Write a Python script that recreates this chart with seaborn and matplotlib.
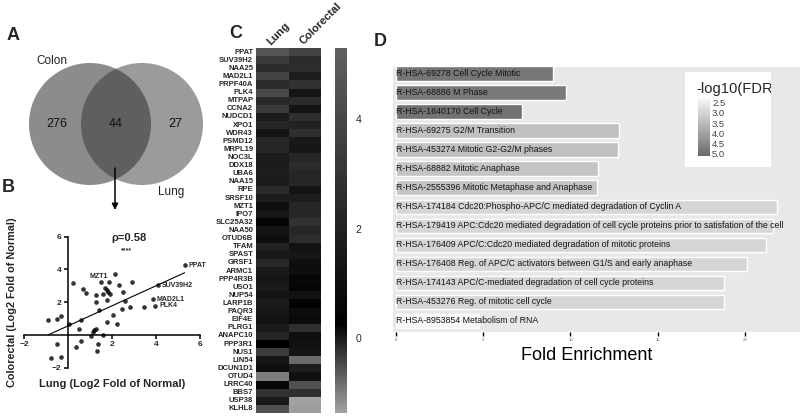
import numpy as np
import pandas as pd
import matplotlib
matplotlib.use('Agg')
import matplotlib.pyplot as plt
import seaborn as sns
from matplotlib.colors import LinearSegmentedColormap, Normalize
from matplotlib.patches import Circle
from matplotlib.cm import ScalarMappable

# ---- data ----
# A: venn
venn_sets = ['Colon', 'Lung']
venn_counts = [276, 44, 27]   # colon only, shared, lung only

# B: log2 fold of normal, lung (x) vs colorectal (y)
scatter_x = [5.30, 4.10, 3.87, 3.97, 3.45, 2.82, 2.92, 2.34, 2.14, 1.50, 1.86, 1.66,
             1.75, 1.81, 1.90, 1.57, 1.28, 1.29, 1.78, 2.49, 2.57, 2.46, 1.42, 2.04,
             1.78, 2.23, 0.83, 0.70, 0.23, 0.61, 0.52, 0.04, -0.34, -0.52, -0.90, 1.20,
             1.27, 1.04, 1.57, 1.36, 0.57, 0.37, -0.49, -0.33, -0.77, 1.30, 1.15]
scatter_y = [4.27, 3.03, 2.17, 1.77, 1.70, 1.70, 3.21, 3.07, 3.74, 3.21, 3.21, 2.86,
             2.76, 2.62, 2.52, 2.50, 2.42, 2.01, 2.15, 2.62, 2.05, 1.58, 1.54, 1.20,
             0.77, 0.67, 2.56, 2.80, 3.15, 0.93, 0.38, 0.69, 1.18, 0.97, 0.93, 0.28,
             0.36, -0.08, 0.00, -0.55, -0.35, -0.71, -0.53, -1.32, -1.38, -0.95, 0.20]
point_labels = {'PPAT': 0, 'SUV39H2': 1, 'MAD2L1': 2, 'PLK4': 3, 'MZT1': 9}
rho_text = 'ρ=0.58'

# C: heatmap
genes = ['PPAT', 'SUV39H2', 'NAA25', 'MAD2L1', 'PRPF40A', 'PLK4', 'MTPAP', 'CCNA2',
         'NUDCD1', 'XPO1', 'WDR43', 'PSMD12', 'MRPL19', 'NOC3L', 'DDX18', 'UBA6',
         'NAA15', 'RPE', 'SRSF10', 'MZT1', 'IPO7', 'SLC25A32', 'NAA50', 'OTUD6B',
         'TFAM', 'SPAST', 'GRSF1', 'ARMC1', 'PPP4R3B', 'USO1', 'NUP54', 'LARP1B',
         'PAQR3', 'EIF4E', 'PLRG1', 'ANAPC10', 'PPP3R1', 'NUS1', 'LIN54', 'DCUN1D1',
         'OTUD4', 'LRRC40', 'BBS7', 'USP38', 'KLHL8']
lung_vals = [4.7, 3.3, 2.5, 3.8, 2.5, 4.1, 2.35, 3.3, 1.7, 2.25, 1.25, 2.25, 2.25, 1.7,
             1.7, 1.8, 1.7, 2.5, 1.7, 1.0, 1.4, 0.55, 1.3, 1.0, 2.0, 1.6, 2.35, 1.6,
             1.4, 1.7, 1.3, 1.7, 1.4, 1.3, 1.7, 2.25, 0.25, -0.35, 1.3, 1.0, -0.98,
             0.65, 2.9, 1.6, -0.56]
colo_vals = [3.8, 2.5, 2.6, 1.8, 2.9, 1.35, 2.5, 1.3, 2.7, 2.0, 2.7, 1.6, 1.4, 2.25,
             2.5, 2.25, 2.25, 1.3, 1.8, 2.25, 2.25, 2.9, 2.25, 2.6, 1.2, 1.4, 1.0, 1.0,
             0.65, 0.5, 1.2, 0.4, 0.9, 0.8, 2.7, 1.0, 1.1, 1.3, -0.82, 1.8, 1.1, -0.56,
             2.7, -1.37, -1.3]
heat_cols = ['Lung', 'Colorectal']

# D: reactome enrichment
pathways = ['R-HSA-69278 Cell Cycle Mitotic',
            'R-HSA-68886 M Phase',
            'R-HSA-1640170 Cell Cycle',
            'R-HSA-69275 G2/M Transition',
            'R-HSA-453274 Mitotic G2-G2/M phases',
            'R-HSA-68882 Mitotic Anaphase',
            'R-HSA-2555396 Mitotic Metaphase and Anaphase',
            'R-HSA-174184 Cdc20:Phospho-APC/C mediated degradation of Cyclin A',
            'R-HSA-179419 APC:Cdc20 mediated degradation of cell cycle proteins prior to satisfation of the cell',
            'R-HSA-176409 APC/C:Cdc20 mediated degradation of mitotic proteins',
            'R-HSA-176408 Reg. of APC/C activators between G1/S and early anaphase',
            'R-HSA-174143 APC/C-mediated degradation of cell cycle proteins',
            'R-HSA-453276 Reg. of mitotic cell cycle',
            'R-HSA-8953854 Metabolism of RNA']
fold_enrich = [9.0, 9.76, 7.22, 12.8, 12.7, 11.58, 11.54, 21.85, 21.6, 21.2, 20.1, 18.8, 18.8, 4.78]
neglog_fdr = [4.85, 4.79, 4.93, 3.39, 3.39, 3.32, 3.32, 2.96, 2.96, 2.96, 2.96, 2.96, 2.96, 2.31]
fdr_ticks = [2.5, 3.0, 3.5, 4.0, 4.5, 5.0]

# ---- style ----
sns.set_theme(style='white')
plt.rcParams['font.family'] = ['Liberation Sans', 'DejaVu Sans']

W, H = 800, 418


def rect(x0, y0, x1, y1):
    # pixel box (top-left origin) -> figure fraction
    return [x0 / W, 1 - y1 / H, (x1 - x0) / W, (y1 - y0) / H]


fig = plt.figure(figsize=(W / 100, H / 100), dpi=100)
fig.patch.set_facecolor('white')

for letter, (px, py) in zip('ABCD', [(13, 35), (8, 187), (236, 33), (380, 42)]):
    fig.text(px / W, 1 - py / H, letter, fontsize=13, fontweight='bold', ha='center', va='center')

# ---- A: venn ----
ax_a = fig.add_axes(rect(0, 0, 210, 215))
ax_a.set_xlim(0, 210)
ax_a.set_ylim(215, 0)
ax_a.axis('off')
c_left = Circle((90, 124), 61, fc='#8c8c8c', ec='none')
c_right = Circle((142, 124), 61, fc='#9b9b9b', ec='none')
ax_a.add_patch(c_left)
ax_a.add_patch(c_right)
c_mid = Circle((90, 124), 61, fc='#5f5f5f', ec='none')
ax_a.add_patch(c_mid)
c_mid.set_clip_path(c_right)
for txt, pos in zip(venn_counts, [(57, 124), (116, 124), (175, 124)]):
    ax_a.text(pos[0], pos[1], str(txt), fontsize=9, ha='center', va='center', color='#111111')
ax_a.text(52, 61, venn_sets[0], fontsize=8.5, ha='center', va='center', color='#222222')
ax_a.text(171, 192, venn_sets[1], fontsize=8.5, ha='center', va='center', color='#222222')
ax_a.annotate('', xy=(115, 210), xytext=(115, 168),
              arrowprops=dict(arrowstyle='-|>', lw=1.1, color='black', mutation_scale=9,
                              shrinkA=0, shrinkB=0))

# ---- B: scatter ----
ax_b = fig.add_axes(rect(24, 236.7, 200, 367.7))
sns.regplot(x=np.array(scatter_x), y=np.array(scatter_y), ci=None, ax=ax_b,
            scatter_kws=dict(s=11, color='black', linewidths=0),
            line_kws=dict(color='black', lw=0.8))
ax_b.set_xlim(-2, 6)
ax_b.set_ylim(-2, 6)
ax_b.set_facecolor('none')
for side in ['top', 'right']:
    ax_b.spines[side].set_visible(False)
for side in ['left', 'bottom']:
    ax_b.spines[side].set_position(('data', 0))
    ax_b.spines[side].set_color('black')
    ax_b.spines[side].set_linewidth(1.1)
ax_b.set_xticks([-2, 2, 4, 6])
ax_b.set_yticks([-2, 2, 4, 6])
ax_b.tick_params(direction='out', length=3, width=1.1, color='black', labelsize=6, pad=1.5,
                 bottom=True, left=True)
for lab in ax_b.get_xticklabels() + ax_b.get_yticklabels():
    lab.set_fontweight('bold')
ax_b.set_xlabel('Lung (Log2 Fold of Normal)', fontsize=8, fontweight='bold')
ax_b.set_ylabel('Colorectal (Log2 Fold of Normal)', fontsize=7.8, fontweight='bold')
ax_b.xaxis.set_label_coords(0.5, -0.085)
ax_b.yaxis.set_label_coords(-0.04, 0.5)
for name, i in point_labels.items():
    if name == 'MZT1':
        ax_b.text(scatter_x[i] - 0.1, scatter_y[i] + 0.33, name, fontsize=5, fontweight='bold',
                  ha='center', va='center', clip_on=False)
    else:
        ax_b.text(scatter_x[i] + 0.17, scatter_y[i], name, fontsize=5, fontweight='bold',
                  ha='left', va='center', clip_on=False)
ax_b.text(2.75, 5.9, rho_text, fontsize=8, fontweight='bold', ha='center', va='center')
ax_b.text(2.66, 5.12, '****', fontsize=5, fontweight='bold', ha='center', va='center')

# ---- C: heatmap ----
heat_cmap = LinearSegmentedColormap.from_list(
    'heat', [(0.0, '#a2a2a2'), (1.62 / 6.67, '#000000'), (1.0, '#606060')])
heat_df = pd.DataFrame({'Lung': lung_vals, 'Colorectal': colo_vals}, index=genes)[heat_cols]
ax_c = fig.add_axes(rect(256, 48, 321, 413))
cax_c = fig.add_axes(rect(335, 48, 347, 413))
sns.heatmap(heat_df, ax=ax_c, cbar_ax=cax_c, cmap=heat_cmap, vmin=-1.37, vmax=5.3,
            xticklabels=True, yticklabels=True)
ax_c.xaxis.tick_top()
ax_c.set_xticklabels(heat_cols, rotation=45, ha='left', va='bottom', rotation_mode='anchor',
                     fontsize=8, fontweight='bold')
ax_c.set_yticklabels(genes, rotation=0, fontsize=5.5, fontweight='bold')
ax_c.tick_params(length=0, pad=2)
ax_c.tick_params(axis='x', pad=1)
cax_c.set_yticks([0, 2, 4])
cax_c.tick_params(length=0, labelsize=7.5, pad=6)
for sp in cax_c.spines.values():
    sp.set_visible(False)

# ---- D: enrichment bars ----
fdr_cmap = LinearSegmentedColormap.from_list('fdr', ['#f8f8f8', '#6a6a6a'])
fdr_norm = Normalize(2.29, 5.1)
bar_df = pd.DataFrame({'pathway': pathways, 'fold': fold_enrich, 'fdr': neglog_fdr})
bar_pal = {p: fdr_cmap(fdr_norm(v)) for p, v in zip(pathways, neglog_fdr)}
ax_d = fig.add_axes(rect(393, 67, 800, 332))
sns.barplot(data=bar_df, x='fold', y='pathway', hue='pathway', palette=bar_pal,
            order=pathways, width=0.76, legend=False, ax=ax_d, saturation=1)
ax_d.set_facecolor('#e8e8e8')
for sp in ax_d.spines.values():
    sp.set_visible(False)
ax_d.set_xlim(-0.17, 23.15)
ax_d.set_ylim(13.59, -0.35)
ax_d.set_yticks([])
ax_d.set_ylabel('')
for i, name in enumerate(pathways):
    ax_d.text(0.03, i, name, fontsize=6.3, color='#151515', ha='left', va='center')
ax_d.set_xticks([0, 5, 10, 15, 20])
ax_d.tick_params(axis='x', bottom=True, length=3, width=1, color='black',
                 labelsize=3, labelcolor='#555555', pad=1.5)
ax_d.set_xlabel('Fold Enrichment', fontsize=13, color='black')
ax_d.xaxis.set_label_coords(0.477, -0.055)

ax_leg = fig.add_axes(rect(685, 72, 771, 167))
ax_leg.set_facecolor('white')
ax_leg.set_xticks([])
ax_leg.set_yticks([])
for sp in ax_leg.spines.values():
    sp.set_visible(False)
ax_leg.text(0.13, 0.82, '-log10(FDR)', fontsize=10.6, ha='left', va='center', clip_on=True)

cax_d = fig.add_axes(rect(698, 98.3, 710, 156))
cb = fig.colorbar(ScalarMappable(norm=fdr_norm, cmap=fdr_cmap), cax=cax_d)
cb.outline.set_visible(False)
cax_d.invert_yaxis()
cb.set_ticks(fdr_ticks)
cb.set_ticklabels([f'{t:.1f}' for t in fdr_ticks])
cax_d.tick_params(length=0, labelsize=6.8, labelcolor='#444444', pad=1.5)

fig.savefig('out.png', dpi=100)
